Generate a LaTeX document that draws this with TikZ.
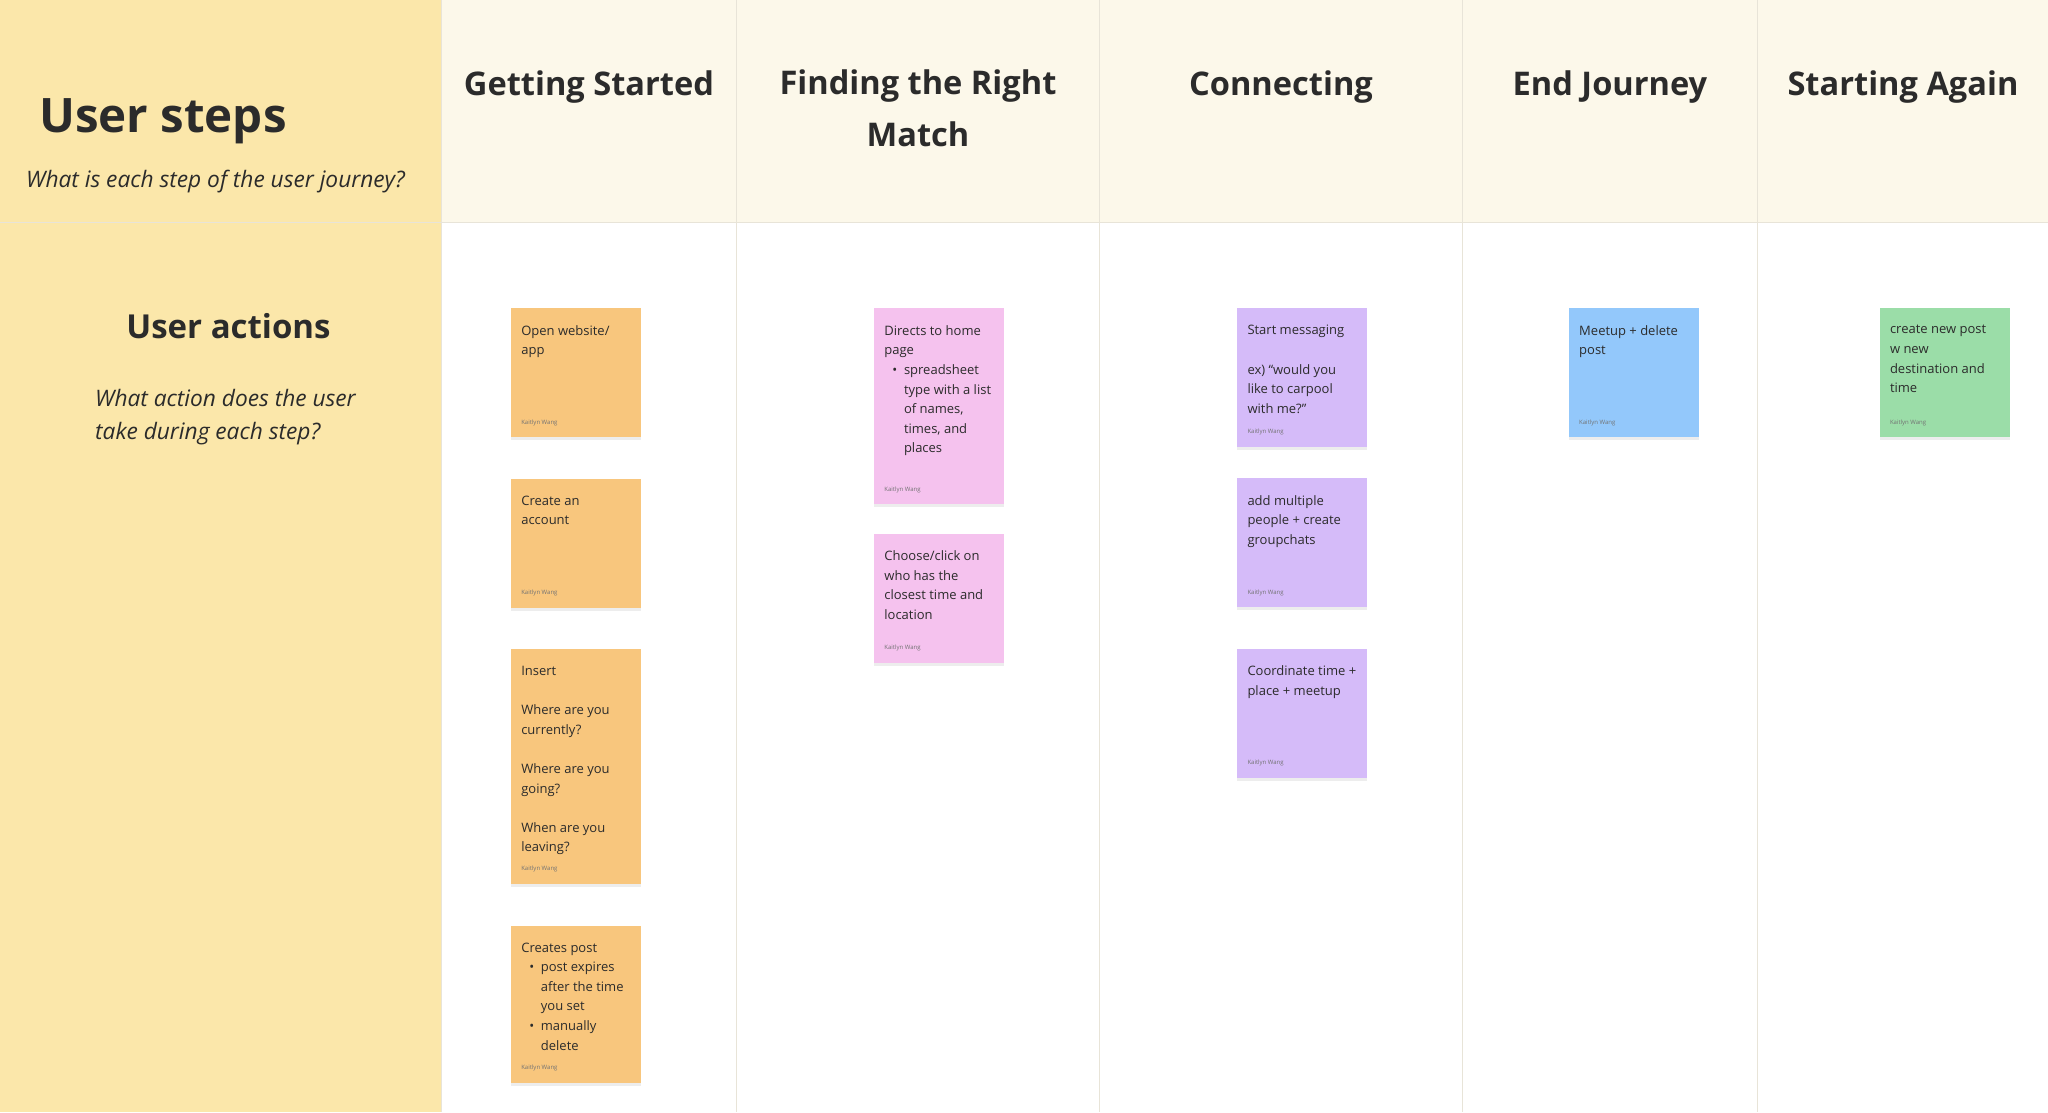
\documentclass[tikz,border=0pt]{standalone}
\usepackage{fontspec}
\setmainfont{Open Sans}
\usetikzlibrary{positioning,shadows}
\definecolor{panelyellow}{HTML}{FBE7AA}
\definecolor{headcream}{HTML}{FCF8EA}
\definecolor{gridline}{HTML}{E8E4D8}
\definecolor{inkgray}{HTML}{2B2B2B}
\definecolor{noteorange}{HTML}{F8C67D}
\definecolor{notepink}{HTML}{F5C2EE}
\definecolor{notepurple}{HTML}{D5BBF9}
\definecolor{noteblue}{HTML}{93C8FB}
\definecolor{notegreen}{HTML}{9BDDA8}
\newcommand{\bitem}{\hspace*{8pt}\makebox[11.6pt][l]{\textbullet}}
\newcommand{\bcont}{\hspace*{19.6pt}}
\begin{document}
\begin{tikzpicture}[%
        x=1pt, y=-1pt,
        every node/.style={inner sep=0pt, text=inkgray},
        sticky/.style={rectangle, anchor=north west, minimum width=130pt,
          drop shadow={shadow xshift=0pt, shadow yshift=-3pt, opacity=0.07, fill=black}},
        notetext/.style={anchor=north west, align=left, font=\fontsize{13}{19.6}\selectfont},
        byline/.style={anchor=base west, font=\fontsize{6}{7}\selectfont, text=black!55},
        heading/.style={font=\bfseries\fontsize{32.6}{52}\selectfont, align=center},
        node distance=41pt
      ]
      \useasboundingbox (0,0) rectangle (2048,1112);
      % backgrounds
      \fill [panelyellow] (0,0) rectangle (441.5,1112);
      \fill [headcream] (441.5,0) rectangle (2048,222);
      \fill [white] (441.5,222) rectangle (2048,1112);
      \foreach \x in {441.5,736.6,1099.7,1462.8,1757.9}
        \draw [gridline, line width=1pt] (\x,0) -- (\x,1112);
      \draw [gridline, line width=1pt] (0,222) -- (2048,222);

      % row titles
      \node (steps) [anchor=base west, font=\bfseries\fontsize{47.5}{60}\selectfont] at (39,132) {User steps};
      \node (stepsq) [anchor=base west, font=\itshape\fontsize{22.7}{30}\selectfont] at (26,187) {What is each step of the user journey?};
      \node (actions) [anchor=base, font=\bfseries\fontsize{33}{44}\selectfont] at (228.5,338) {User actions};
      \node (actionsq) [anchor=base west, align=left, font=\itshape\fontsize{22.7}{33}\selectfont] at (95,439) {What action does the user\\take during each step?};

      % column headings
      \node (getting) [heading] at (589,87) {Getting Started};
      \node (finding) [heading] at (918,108) {Finding the Right\\Match};
      \node (connecting) [heading] at (1281,87) {Connecting};
      \node (ending) [heading] at (1610,87) {End Journey};
      \node (again) [heading] at (1903,87) {Starting Again};

      % getting started
      \node (gs1) [sticky, fill=noteorange, minimum height=129pt] at (510.6,308.2) {};
      \node (gs2) [sticky, fill=noteorange, minimum height=129pt, below=41pt of gs1] {};
      \node (gs3) [sticky, fill=noteorange, minimum height=235pt, below=41pt of gs2] {};
      \node (gs4) [sticky, fill=noteorange, minimum height=157pt, below=41pt of gs3] {};
      \node (gs1t) [notetext] at ([xshift=10.5pt,yshift=-17pt]gs1.north west) {Open website/\\app};
      \node (gs2t) [notetext] at ([xshift=10.5pt,yshift=-17pt]gs2.north west) {Create an\\account};
      \node (gs3t) [notetext] at ([xshift=10.5pt,yshift=-17pt]gs3.north west) {Insert\\[19.6pt]Where are you\\currently?\\[19.6pt]Where are you\\going?\\[19.6pt]When are you\\leaving?};
      \node (gs4t) [notetext] at ([xshift=10.5pt,yshift=-17pt]gs4.north west) {Creates post\\\bitem post expires\\\bcont after the time\\\bcont you set\\\bitem manually\\\bcont delete};
      \node (gs1a) [byline] at ([xshift=10.5pt,yshift=13.5pt]gs1.south west) {Kaitlyn Wang};
      \node (gs2a) [byline] at ([xshift=10.5pt,yshift=13.5pt]gs2.south west) {Kaitlyn Wang};
      \node (gs3a) [byline] at ([xshift=10.5pt,yshift=13.5pt]gs3.south west) {Kaitlyn Wang};
      \node (gs4a) [byline] at ([xshift=10.5pt,yshift=13.5pt]gs4.south west) {Kaitlyn Wang};

      % finding the right match
      \node (fm1) [sticky, fill=notepink, minimum height=196pt] at (873.7,308.2) {};
      \node (fm2) [sticky, fill=notepink, minimum height=129pt, below=29pt of fm1] {};
      \node (fm1t) [notetext] at ([xshift=10.5pt,yshift=-17pt]fm1.north west) {Directs to home\\page\\\bitem spreadsheet\\\bcont type with a list\\\bcont of names,\\\bcont times, and\\\bcont places};
      \node (fm2t) [notetext] at ([xshift=10.5pt,yshift=-17pt]fm2.north west) {Choose/click on\\who has the\\closest time and\\location};
      \node (fm1a) [byline] at ([xshift=10.5pt,yshift=13.5pt]fm1.south west) {Kaitlyn Wang};
      \node (fm2a) [byline] at ([xshift=10.5pt,yshift=13.5pt]fm2.south west) {Kaitlyn Wang};

      % connecting
      \node (cn1) [sticky, fill=notepurple, minimum height=138.5pt] at (1236.8,308.2) {};
      \node (cn2) [sticky, fill=notepurple, minimum height=129pt, below=31pt of cn1] {};
      \node (cn3) [sticky, fill=notepurple, minimum height=129pt, below=41pt of cn2] {};
      \node (cn1t) [notetext] at ([xshift=10.5pt,yshift=-17pt]cn1.north west) {Start messaging\\[19.6pt]ex) “would you\\like to carpool\\with me?”};
      \node (cn2t) [notetext] at ([xshift=10.5pt,yshift=-17pt]cn2.north west) {add multiple\\people + create\\groupchats};
      \node (cn3t) [notetext] at ([xshift=10.5pt,yshift=-17pt]cn3.north west) {Coordinate time +\\place + meetup};
      \node (cn1a) [byline] at ([xshift=10.5pt,yshift=13.5pt]cn1.south west) {Kaitlyn Wang};
      \node (cn2a) [byline] at ([xshift=10.5pt,yshift=13.5pt]cn2.south west) {Kaitlyn Wang};
      \node (cn3a) [byline] at ([xshift=10.5pt,yshift=13.5pt]cn3.south west) {Kaitlyn Wang};

      % end journey
      \node (ej1) [sticky, fill=noteblue, minimum height=129pt] at (1568.5,308.2) {};
      \node (ej1t) [notetext] at ([xshift=10.5pt,yshift=-17pt]ej1.north west) {Meetup + delete\\post};
      \node (ej1a) [byline] at ([xshift=10.5pt,yshift=13.5pt]ej1.south west) {Kaitlyn Wang};

      % starting again
      \node (sa1) [sticky, fill=notegreen, minimum height=129pt] at (1879.3,308.2) {};
      \node (sa1t) [notetext] at ([xshift=10.5pt,yshift=-17pt]sa1.north west) {create new post\\w new\\destination and\\time};
      \node (sa1a) [byline] at ([xshift=10.5pt,yshift=13.5pt]sa1.south west) {Kaitlyn Wang};
    \end{tikzpicture}
\end{document}
